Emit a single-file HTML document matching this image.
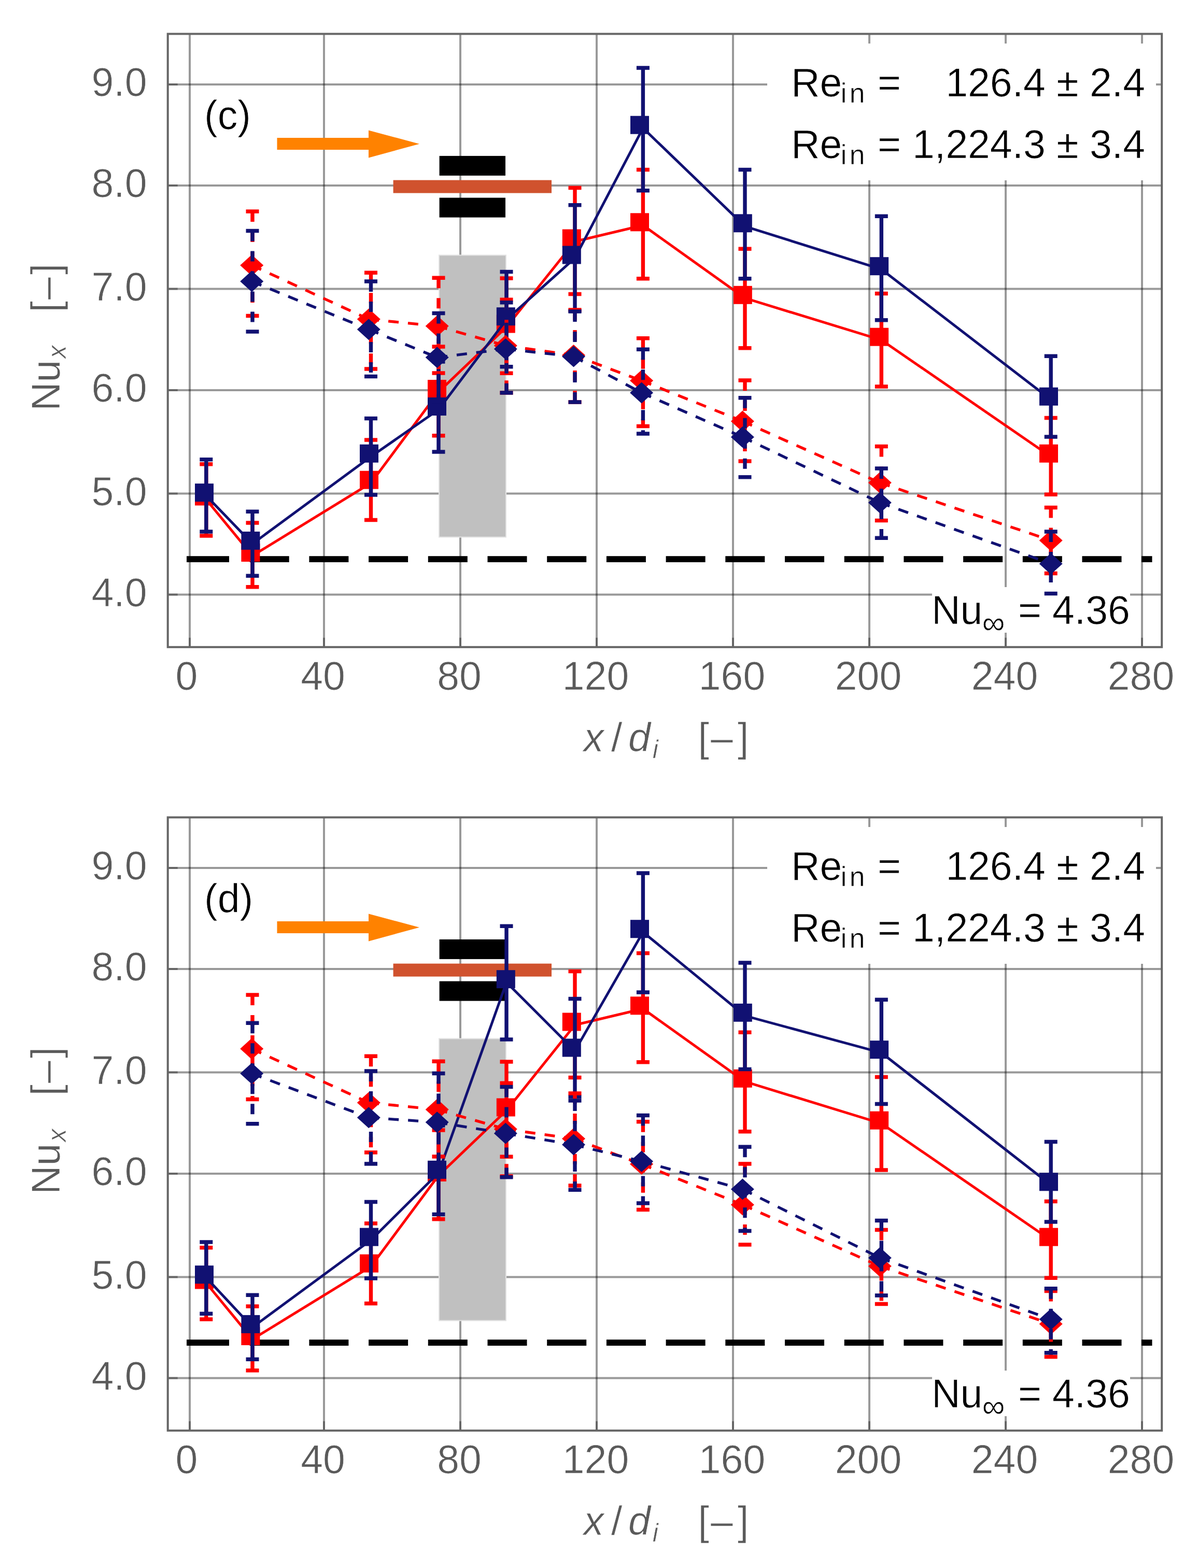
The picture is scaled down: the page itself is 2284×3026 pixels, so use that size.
<!DOCTYPE html>
<html lang="en">
<head>
<meta charset="utf-8">
<title>Local Nusselt number along the tube</title>
<style>
html,body{margin:0;padding:0;background:#fff}
body{width:2284px;height:3026px;overflow:hidden}
svg{display:block;font-family:'Liberation Sans', sans-serif;filter:blur(0.55px)}
text{stroke:#fff;stroke-width:0.7px;stroke-linejoin:round}
</style>
</head>
<body>
<svg width="2284" height="3026" viewBox="0 0 2284 3026">
<rect width="2284" height="3026" fill="#fff"/>
<g id="chart-c">
<path d="M323.7 163H2241.2M323.7 358H2241.2M323.7 557.5H2241.2M323.7 753H2241.2M323.7 952.5H2241.2M323.7 1147.5H2241.2" stroke="#000" stroke-opacity="0.4" stroke-width="4" fill="none"/>
<path d="M366 65.4V1248.8M625 65.4V1248.8M888 65.4V1248.8M1151 65.4V1248.8M1414 65.4V1248.8M1677 65.4V1248.8M1940 65.4V1248.8M2203 65.4V1248.8" stroke="#000" stroke-opacity="0.4" stroke-width="4" fill="none"/>
<path d="M323.7 163h19M323.7 358h19M323.7 557.5h19M323.7 753h19M323.7 952.5h19M323.7 1147.5h19M366 1248.8v-18M625 1248.8v-18M888 1248.8v-18M1151 1248.8v-18M1414 1248.8v-18M1677 1248.8v-18M1940 1248.8v-18M2203 1248.8v-18" stroke="#000" stroke-opacity="0.33" stroke-width="4" fill="none"/>
<rect x="1480" y="84" width="750" height="264" fill="#fff"/>
<rect x="1798" y="1133" width="382" height="88" fill="#fff"/>
<rect x="323.7" y="65.4" width="1917.5" height="1183.4" fill="none" stroke="#666666" stroke-width="4"/>
<rect x="846" y="491.5" width="131" height="546" fill="#e2e2e2"/>
<rect x="848" y="493.5" width="127" height="542" fill="#c0c0c0"/>
<text x="1797" y="1203.5" font-size="77" fill="#000">Nu<tspan font-size="62" dy="19" dx="-1">∞</tspan><tspan dy="-19" x="1964">=</tspan><tspan x="2030">4.36</tspan></text>
<path d="M534.5 266H711V251.5L809 277.7L711 304.5V289H534.5z" fill="#ff8200"/>
<rect x="847.6" y="300.9" width="127.4" height="38" fill="#000"/>
<rect x="847.6" y="381.6" width="127.4" height="38" fill="#000"/>
<rect x="758.6" y="347.6" width="305.4" height="25" fill="#d0522e"/>
<g fill="#000"><rect x="360" y="1073.2" width="82" height="11.8"/><rect x="481.7" y="1073.2" width="76" height="11.8"/><rect x="596.4" y="1073.2" width="76" height="11.8"/><rect x="711.1" y="1073.2" width="76" height="11.8"/><rect x="825.8" y="1073.2" width="76" height="11.8"/><rect x="940.5" y="1073.2" width="76" height="11.8"/><rect x="1055.2" y="1073.2" width="76" height="11.8"/><rect x="1169.9" y="1073.2" width="76" height="11.8"/><rect x="1284.6" y="1073.2" width="76" height="11.8"/><rect x="1399.3" y="1073.2" width="76" height="11.8"/><rect x="1514" y="1073.2" width="76" height="11.8"/><rect x="1628.7" y="1073.2" width="76" height="11.8"/><rect x="1743.4" y="1073.2" width="76" height="11.8"/><rect x="1858.1" y="1073.2" width="76" height="11.8"/><rect x="1972.8" y="1073.2" width="76" height="11.8"/><rect x="2087.5" y="1073.2" width="76" height="11.8"/><rect x="2202.2" y="1073.2" width="20.3" height="11.8"/></g>
<polyline points="397.8,964 487,1072.5 715.5,932.2 846,756.5 977,631 1109,466 1240.4,434.8 1437,575.3 1700.3,656.2 2027.2,881.2" fill="none" stroke="#ff0000" stroke-width="5"/>
<path d="M397.8 895.7V1034" stroke="#ff0000" stroke-width="7.4" fill="none"/>
<path d="M385.3 895.7h25M385.3 1034h25" stroke="#ff0000" stroke-width="7.5" fill="none"/>
<path d="M487 1008.9V1132.8" stroke="#ff0000" stroke-width="7.4" fill="none"/>
<path d="M474.5 1008.9h25M474.5 1132.8h25" stroke="#ff0000" stroke-width="7.5" fill="none"/>
<path d="M715.5 849V1003.5" stroke="#ff0000" stroke-width="7.4" fill="none"/>
<path d="M703 849h25M703 1003.5h25" stroke="#ff0000" stroke-width="7.5" fill="none"/>
<path d="M846 669V840.7" stroke="#ff0000" stroke-width="7.4" fill="none"/>
<path d="M833.5 669h25M833.5 840.7h25" stroke="#ff0000" stroke-width="7.5" fill="none"/>
<path d="M977 537V720.2" stroke="#ff0000" stroke-width="7.4" fill="none"/>
<path d="M964.5 537h25M964.5 720.2h25" stroke="#ff0000" stroke-width="7.5" fill="none"/>
<path d="M1109 362.6V567.5" stroke="#ff0000" stroke-width="7.4" fill="none"/>
<path d="M1096.5 362.6h25M1096.5 567.5h25" stroke="#ff0000" stroke-width="7.5" fill="none"/>
<path d="M1240.4 327.4V537.7" stroke="#ff0000" stroke-width="7.4" fill="none"/>
<path d="M1227.9 327.4h25M1227.9 537.7h25" stroke="#ff0000" stroke-width="7.5" fill="none"/>
<path d="M1437 480.2V671.7" stroke="#ff0000" stroke-width="7.4" fill="none"/>
<path d="M1424.5 480.2h25M1424.5 671.7h25" stroke="#ff0000" stroke-width="7.5" fill="none"/>
<path d="M1700.3 566.5V746.1" stroke="#ff0000" stroke-width="7.4" fill="none"/>
<path d="M1687.8 566.5h25M1687.8 746.1h25" stroke="#ff0000" stroke-width="7.5" fill="none"/>
<path d="M2027.2 806.5V954.3" stroke="#ff0000" stroke-width="7.4" fill="none"/>
<path d="M2014.7 806.5h25M2014.7 954.3h25" stroke="#ff0000" stroke-width="7.5" fill="none"/>
<rect x="376" y="940.5" width="36" height="35" fill="#ff0000"/>
<rect x="465.4" y="1049" width="36" height="35" fill="#ff0000"/>
<rect x="694" y="908.7" width="36" height="35" fill="#ff0000"/>
<rect x="825" y="733" width="36" height="35" fill="#ff0000"/>
<rect x="957.8" y="607.5" width="36" height="35" fill="#ff0000"/>
<rect x="1084.8" y="442.5" width="36" height="35" fill="#ff0000"/>
<rect x="1216" y="411.3" width="36" height="35" fill="#ff0000"/>
<rect x="1414.8" y="551.8" width="36" height="35" fill="#ff0000"/>
<rect x="1678.1" y="632.7" width="36" height="35" fill="#ff0000"/>
<rect x="2005" y="857.7" width="36" height="35" fill="#ff0000"/>
<polyline points="397.8,956.7 487,1049.4 715.5,881.2 846,790.5 977,616.7 1109,498 1240.4,247.2 1437,436.8 1700.3,519.7 2027.2,771.2" fill="none" stroke="#111172" stroke-width="5"/>
<path d="M397.8 886.7V1026" stroke="#111172" stroke-width="7.4" fill="none"/>
<path d="M385.3 886.7h25M385.3 1026h25" stroke="#111172" stroke-width="7.5" fill="none"/>
<path d="M487 987.3V1111.3" stroke="#111172" stroke-width="7.4" fill="none"/>
<path d="M474.5 987.3h25M474.5 1111.3h25" stroke="#111172" stroke-width="7.5" fill="none"/>
<path d="M715.5 807.5V955" stroke="#111172" stroke-width="7.4" fill="none"/>
<path d="M703 807.5h25M703 955h25" stroke="#111172" stroke-width="7.5" fill="none"/>
<path d="M846 698V872" stroke="#111172" stroke-width="7.4" fill="none"/>
<path d="M833.5 698h25M833.5 872h25" stroke="#111172" stroke-width="7.5" fill="none"/>
<path d="M977 524.4V707.7" stroke="#111172" stroke-width="7.4" fill="none"/>
<path d="M964.5 524.4h25M964.5 707.7h25" stroke="#111172" stroke-width="7.5" fill="none"/>
<path d="M1109 395.7V600" stroke="#111172" stroke-width="7.4" fill="none"/>
<path d="M1096.5 395.7h25M1096.5 600h25" stroke="#111172" stroke-width="7.5" fill="none"/>
<path d="M1240.4 130.9V367.7" stroke="#111172" stroke-width="7.4" fill="none"/>
<path d="M1227.9 130.9h25M1227.9 367.7h25" stroke="#111172" stroke-width="7.5" fill="none"/>
<path d="M1437 327.5V537.7" stroke="#111172" stroke-width="7.4" fill="none"/>
<path d="M1424.5 327.5h25M1424.5 537.7h25" stroke="#111172" stroke-width="7.5" fill="none"/>
<path d="M1700.3 417.2V617.8" stroke="#111172" stroke-width="7.4" fill="none"/>
<path d="M1687.8 417.2h25M1687.8 617.8h25" stroke="#111172" stroke-width="7.5" fill="none"/>
<path d="M2027.2 687.2V843" stroke="#111172" stroke-width="7.4" fill="none"/>
<path d="M2014.7 687.2h25M2014.7 843h25" stroke="#111172" stroke-width="7.5" fill="none"/>
<rect x="376" y="933.2" width="36" height="35" fill="#111172"/>
<rect x="465.4" y="1025.9" width="36" height="35" fill="#111172"/>
<rect x="694" y="857.7" width="36" height="35" fill="#111172"/>
<rect x="825" y="767" width="36" height="35" fill="#111172"/>
<rect x="957.8" y="593.2" width="36" height="35" fill="#111172"/>
<rect x="1084.8" y="474.5" width="36" height="35" fill="#111172"/>
<rect x="1216" y="223.7" width="36" height="35" fill="#111172"/>
<rect x="1414.8" y="413.3" width="36" height="35" fill="#111172"/>
<rect x="1678.1" y="496.2" width="36" height="35" fill="#111172"/>
<rect x="2005" y="747.7" width="36" height="35" fill="#111172"/>
<path d="M485.7 511.9L711.3 616M711.3 616L843.2 629.3M843.2 629.3L975.3 667M975.3 667L1106.5 685.5M1106.5 685.5L1237.6 734.6M1237.6 734.6L1432.4 813M1432.4 813L1697.3 931.6M1697.3 931.6L2027.2 1043" fill="none" stroke="#ff0000" stroke-width="5.3" stroke-dasharray="20 18"/>
<path d="M487 408V609.6" stroke="#ff0000" stroke-width="7.4" stroke-dasharray="20 19" fill="none"/>
<path d="M474.5 408h25M474.5 609.6h25" stroke="#ff0000" stroke-width="7.5" fill="none"/>
<path d="M715.5 526.2V712" stroke="#ff0000" stroke-width="7.4" stroke-dasharray="20 19" fill="none"/>
<path d="M703 526.2h25M703 712h25" stroke="#ff0000" stroke-width="7.5" fill="none"/>
<path d="M846 536.3V720" stroke="#ff0000" stroke-width="7.4" stroke-dasharray="20 19" fill="none"/>
<path d="M833.5 536.3h25M833.5 720h25" stroke="#ff0000" stroke-width="7.5" fill="none"/>
<path d="M977 578.3V758" stroke="#ff0000" stroke-width="7.4" stroke-dasharray="20 19" fill="none"/>
<path d="M964.5 578.3h25M964.5 758h25" stroke="#ff0000" stroke-width="7.5" fill="none"/>
<path d="M1109 598V776" stroke="#ff0000" stroke-width="7.4" stroke-dasharray="20 19" fill="none"/>
<path d="M1096.5 598h25M1096.5 776h25" stroke="#ff0000" stroke-width="7.5" fill="none"/>
<path d="M1240.4 652.7V822.6" stroke="#ff0000" stroke-width="7.4" stroke-dasharray="20 19" fill="none"/>
<path d="M1227.9 652.7h25M1227.9 822.6h25" stroke="#ff0000" stroke-width="7.5" fill="none"/>
<path d="M1437 733.9V890" stroke="#ff0000" stroke-width="7.4" stroke-dasharray="20 19" fill="none"/>
<path d="M1424.5 733.9h25M1424.5 890h25" stroke="#ff0000" stroke-width="7.5" fill="none"/>
<path d="M1700.3 861.6V1004.6" stroke="#ff0000" stroke-width="7.4" stroke-dasharray="20 19" fill="none"/>
<path d="M1687.8 861.6h25M1687.8 1004.6h25" stroke="#ff0000" stroke-width="7.5" fill="none"/>
<path d="M2027.2 979.4V1106.6" stroke="#ff0000" stroke-width="7.4" stroke-dasharray="20 19" fill="none"/>
<path d="M2014.7 979.4h25M2014.7 1106.6h25" stroke="#ff0000" stroke-width="7.5" fill="none"/>
<path d="M463.2 511.9l22.5 -20.5 22.5 20.5 -22.5 20.5z" fill="#ff0000"/>
<path d="M688.8 616l22.5 -20.5 22.5 20.5 -22.5 20.5z" fill="#ff0000"/>
<path d="M820.7 629.3l22.5 -20.5 22.5 20.5 -22.5 20.5z" fill="#ff0000"/>
<path d="M952.8 667l22.5 -20.5 22.5 20.5 -22.5 20.5z" fill="#ff0000"/>
<path d="M1084 685.5l22.5 -20.5 22.5 20.5 -22.5 20.5z" fill="#ff0000"/>
<path d="M1215.1 734.6l22.5 -20.5 22.5 20.5 -22.5 20.5z" fill="#ff0000"/>
<path d="M1409.9 813l22.5 -20.5 22.5 20.5 -22.5 20.5z" fill="#ff0000"/>
<path d="M1674.8 931.6l22.5 -20.5 22.5 20.5 -22.5 20.5z" fill="#ff0000"/>
<path d="M2004.7 1043l22.5 -20.5 22.5 20.5 -22.5 20.5z" fill="#ff0000"/>
<path d="M485.7 543.1L711.3 635.8M711.3 635.8L843.2 689.7M843.2 689.7L975.3 673.5M975.3 673.5L1106.5 687.9M1106.5 687.9L1237.6 758M1237.6 758L1432.4 843.4M1432.4 843.4L1697.3 970M1697.3 970L2027.2 1087.9" fill="none" stroke="#111172" stroke-width="5.3" stroke-dasharray="20 18"/>
<path d="M487 445.4V640.1" stroke="#111172" stroke-width="7.4" stroke-dasharray="20 19" fill="none"/>
<path d="M474.5 445.4h25M474.5 640.1h25" stroke="#111172" stroke-width="7.5" fill="none"/>
<path d="M715.5 543.1V726.4" stroke="#111172" stroke-width="7.4" stroke-dasharray="20 19" fill="none"/>
<path d="M703 543.1h25M703 726.4h25" stroke="#111172" stroke-width="7.5" fill="none"/>
<path d="M846 604.6V775" stroke="#111172" stroke-width="7.4" stroke-dasharray="20 19" fill="none"/>
<path d="M833.5 604.6h25M833.5 775h25" stroke="#111172" stroke-width="7.5" fill="none"/>
<path d="M977 583.7V758" stroke="#111172" stroke-width="7.4" stroke-dasharray="20 19" fill="none"/>
<path d="M964.5 583.7h25M964.5 758h25" stroke="#111172" stroke-width="7.5" fill="none"/>
<path d="M1109 601V776" stroke="#111172" stroke-width="7.4" stroke-dasharray="20 19" fill="none"/>
<path d="M1096.5 601h25M1096.5 776h25" stroke="#111172" stroke-width="7.5" fill="none"/>
<path d="M1240.4 674.3V837" stroke="#111172" stroke-width="7.4" stroke-dasharray="20 19" fill="none"/>
<path d="M1227.9 674.3h25M1227.9 837h25" stroke="#111172" stroke-width="7.5" fill="none"/>
<path d="M1437 767.7V920.7" stroke="#111172" stroke-width="7.4" stroke-dasharray="20 19" fill="none"/>
<path d="M1424.5 767.7h25M1424.5 920.7h25" stroke="#111172" stroke-width="7.5" fill="none"/>
<path d="M1700.3 904V1038.3" stroke="#111172" stroke-width="7.4" stroke-dasharray="20 19" fill="none"/>
<path d="M1687.8 904h25M1687.8 1038.3h25" stroke="#111172" stroke-width="7.5" fill="none"/>
<path d="M2027.2 1026V1145.4" stroke="#111172" stroke-width="7.4" stroke-dasharray="20 19" fill="none"/>
<path d="M2014.7 1026h25M2014.7 1145.4h25" stroke="#111172" stroke-width="7.5" fill="none"/>
<path d="M463.2 543.1l22.5 -20.5 22.5 20.5 -22.5 20.5z" fill="#111172"/>
<path d="M688.8 635.8l22.5 -20.5 22.5 20.5 -22.5 20.5z" fill="#111172"/>
<path d="M820.7 689.7l22.5 -20.5 22.5 20.5 -22.5 20.5z" fill="#111172"/>
<path d="M952.8 673.5l22.5 -20.5 22.5 20.5 -22.5 20.5z" fill="#111172"/>
<path d="M1084 687.9l22.5 -20.5 22.5 20.5 -22.5 20.5z" fill="#111172"/>
<path d="M1215.1 758l22.5 -20.5 22.5 20.5 -22.5 20.5z" fill="#111172"/>
<path d="M1409.9 843.4l22.5 -20.5 22.5 20.5 -22.5 20.5z" fill="#111172"/>
<path d="M1674.8 970l22.5 -20.5 22.5 20.5 -22.5 20.5z" fill="#111172"/>
<path d="M2004.7 1087.9l22.5 -20.5 22.5 20.5 -22.5 20.5z" fill="#111172"/>
<text font-size="77" fill="#000" y="185.5"><tspan x="1526">Re</tspan><tspan font-size="54" dy="12" dx="-3" letter-spacing="5">in</tspan><tspan dy="-12" x="1693">=</tspan><tspan x="2209" text-anchor="end">126.4 ± 2.4</tspan></text>
<text font-size="77" fill="#000" y="304.5"><tspan x="1526">Re</tspan><tspan font-size="54" dy="12" dx="-3" letter-spacing="5">in</tspan><tspan dy="-12" x="1693">=</tspan><tspan x="2209" text-anchor="end">1,224.3 ± 3.4</tspan></text>
<text font-size="77" fill="#000" x="394" y="248.5">(c)</text>
<text font-size="77" fill="#5a5a5a" x="283.5" y="185" text-anchor="end">9.0</text>
<text font-size="77" fill="#5a5a5a" x="283.5" y="380" text-anchor="end">8.0</text>
<text font-size="77" fill="#5a5a5a" x="283.5" y="579.5" text-anchor="end">7.0</text>
<text font-size="77" fill="#5a5a5a" x="283.5" y="775" text-anchor="end">6.0</text>
<text font-size="77" fill="#5a5a5a" x="283.5" y="974.5" text-anchor="end">5.0</text>
<text font-size="77" fill="#5a5a5a" x="283.5" y="1169.5" text-anchor="end">4.0</text>
<text font-size="77" fill="#5a5a5a" x="360" y="1331" text-anchor="middle">0</text>
<text font-size="77" fill="#5a5a5a" x="623" y="1331" text-anchor="middle">40</text>
<text font-size="77" fill="#5a5a5a" x="886" y="1331" text-anchor="middle">80</text>
<text font-size="77" fill="#5a5a5a" x="1149" y="1331" text-anchor="middle">120</text>
<text font-size="77" fill="#5a5a5a" x="1412" y="1331" text-anchor="middle">160</text>
<text font-size="77" fill="#5a5a5a" x="1675" y="1331" text-anchor="middle">200</text>
<text font-size="77" fill="#5a5a5a" x="1938" y="1331" text-anchor="middle">240</text>
<text font-size="77" fill="#5a5a5a" x="2201" y="1331" text-anchor="middle">280</text>
<text font-size="77" fill="#5a5a5a" y="1450"><tspan x="1126" font-style="italic">x</tspan><tspan x="1179">/</tspan><tspan x="1212" font-style="italic">d</tspan><tspan font-style="italic" font-size="50" dy="13" dx="4">i</tspan><tspan dy="-13" x="1346.5">[</tspan><tspan x="1371">–</tspan><tspan x="1423">]</tspan></text>
<text font-size="77" fill="#5a5a5a" transform="translate(114.5 793) rotate(-90)"><tspan x="0" y="0">Nu</tspan><tspan font-style="italic" font-size="50" dy="12" dx="3">x</tspan><tspan dy="-12" x="190.5">[</tspan><tspan x="215">–</tspan><tspan x="263">]</tspan></text>
</g>
<g id="chart-d" transform="translate(0 1512)">
<path d="M323.7 163H2241.2M323.7 358H2241.2M323.7 557.5H2241.2M323.7 753H2241.2M323.7 952.5H2241.2M323.7 1147.5H2241.2" stroke="#000" stroke-opacity="0.4" stroke-width="4" fill="none"/>
<path d="M366 65.4V1248.8M625 65.4V1248.8M888 65.4V1248.8M1151 65.4V1248.8M1414 65.4V1248.8M1677 65.4V1248.8M1940 65.4V1248.8M2203 65.4V1248.8" stroke="#000" stroke-opacity="0.4" stroke-width="4" fill="none"/>
<path d="M323.7 163h19M323.7 358h19M323.7 557.5h19M323.7 753h19M323.7 952.5h19M323.7 1147.5h19M366 1248.8v-18M625 1248.8v-18M888 1248.8v-18M1151 1248.8v-18M1414 1248.8v-18M1677 1248.8v-18M1940 1248.8v-18M2203 1248.8v-18" stroke="#000" stroke-opacity="0.33" stroke-width="4" fill="none"/>
<rect x="1480" y="84" width="750" height="264" fill="#fff"/>
<rect x="1798" y="1133" width="382" height="88" fill="#fff"/>
<rect x="323.7" y="65.4" width="1917.5" height="1183.4" fill="none" stroke="#666666" stroke-width="4"/>
<rect x="846" y="491.5" width="131" height="546" fill="#e2e2e2"/>
<rect x="848" y="493.5" width="127" height="542" fill="#c0c0c0"/>
<text x="1797" y="1203.5" font-size="77" fill="#000">Nu<tspan font-size="62" dy="19" dx="-1">∞</tspan><tspan dy="-19" x="1964">=</tspan><tspan x="2030">4.36</tspan></text>
<path d="M534.5 266H711V251.5L809 277.7L711 304.5V289H534.5z" fill="#ff8200"/>
<rect x="847.6" y="300.9" width="127.4" height="38" fill="#000"/>
<rect x="847.6" y="381.6" width="127.4" height="38" fill="#000"/>
<rect x="758.6" y="347.6" width="305.4" height="25" fill="#d0522e"/>
<g fill="#000"><rect x="360" y="1073.2" width="82" height="11.8"/><rect x="481.7" y="1073.2" width="76" height="11.8"/><rect x="596.4" y="1073.2" width="76" height="11.8"/><rect x="711.1" y="1073.2" width="76" height="11.8"/><rect x="825.8" y="1073.2" width="76" height="11.8"/><rect x="940.5" y="1073.2" width="76" height="11.8"/><rect x="1055.2" y="1073.2" width="76" height="11.8"/><rect x="1169.9" y="1073.2" width="76" height="11.8"/><rect x="1284.6" y="1073.2" width="76" height="11.8"/><rect x="1399.3" y="1073.2" width="76" height="11.8"/><rect x="1514" y="1073.2" width="76" height="11.8"/><rect x="1628.7" y="1073.2" width="76" height="11.8"/><rect x="1743.4" y="1073.2" width="76" height="11.8"/><rect x="1858.1" y="1073.2" width="76" height="11.8"/><rect x="1972.8" y="1073.2" width="76" height="11.8"/><rect x="2087.5" y="1073.2" width="76" height="11.8"/><rect x="2202.2" y="1073.2" width="20.3" height="11.8"/></g>
<polyline points="397.8,964 487,1072.5 715.5,932.2 846,756.5 977,631 1109,466 1240.4,434.8 1437,575.3 1700.3,656.2 2027.2,881.2" fill="none" stroke="#ff0000" stroke-width="5"/>
<path d="M397.8 895.7V1034" stroke="#ff0000" stroke-width="7.4" fill="none"/>
<path d="M385.3 895.7h25M385.3 1034h25" stroke="#ff0000" stroke-width="7.5" fill="none"/>
<path d="M487 1008.9V1132.8" stroke="#ff0000" stroke-width="7.4" fill="none"/>
<path d="M474.5 1008.9h25M474.5 1132.8h25" stroke="#ff0000" stroke-width="7.5" fill="none"/>
<path d="M715.5 849V1003.5" stroke="#ff0000" stroke-width="7.4" fill="none"/>
<path d="M703 849h25M703 1003.5h25" stroke="#ff0000" stroke-width="7.5" fill="none"/>
<path d="M846 669V840.7" stroke="#ff0000" stroke-width="7.4" fill="none"/>
<path d="M833.5 669h25M833.5 840.7h25" stroke="#ff0000" stroke-width="7.5" fill="none"/>
<path d="M977 537V720.2" stroke="#ff0000" stroke-width="7.4" fill="none"/>
<path d="M964.5 537h25M964.5 720.2h25" stroke="#ff0000" stroke-width="7.5" fill="none"/>
<path d="M1109 362.6V567.5" stroke="#ff0000" stroke-width="7.4" fill="none"/>
<path d="M1096.5 362.6h25M1096.5 567.5h25" stroke="#ff0000" stroke-width="7.5" fill="none"/>
<path d="M1240.4 327.4V537.7" stroke="#ff0000" stroke-width="7.4" fill="none"/>
<path d="M1227.9 327.4h25M1227.9 537.7h25" stroke="#ff0000" stroke-width="7.5" fill="none"/>
<path d="M1437 480.2V671.7" stroke="#ff0000" stroke-width="7.4" fill="none"/>
<path d="M1424.5 480.2h25M1424.5 671.7h25" stroke="#ff0000" stroke-width="7.5" fill="none"/>
<path d="M1700.3 566.5V746.1" stroke="#ff0000" stroke-width="7.4" fill="none"/>
<path d="M1687.8 566.5h25M1687.8 746.1h25" stroke="#ff0000" stroke-width="7.5" fill="none"/>
<path d="M2027.2 806.5V954.3" stroke="#ff0000" stroke-width="7.4" fill="none"/>
<path d="M2014.7 806.5h25M2014.7 954.3h25" stroke="#ff0000" stroke-width="7.5" fill="none"/>
<rect x="376" y="940.5" width="36" height="35" fill="#ff0000"/>
<rect x="465.4" y="1049" width="36" height="35" fill="#ff0000"/>
<rect x="694" y="908.7" width="36" height="35" fill="#ff0000"/>
<rect x="825" y="733" width="36" height="35" fill="#ff0000"/>
<rect x="957.8" y="607.5" width="36" height="35" fill="#ff0000"/>
<rect x="1084.8" y="442.5" width="36" height="35" fill="#ff0000"/>
<rect x="1216" y="411.3" width="36" height="35" fill="#ff0000"/>
<rect x="1414.8" y="551.8" width="36" height="35" fill="#ff0000"/>
<rect x="1678.1" y="632.7" width="36" height="35" fill="#ff0000"/>
<rect x="2005" y="857.7" width="36" height="35" fill="#ff0000"/>
<polyline points="397.8,953.8 487,1049.4 715.5,881.2 846,751.4 977,383.7 1109,516 1240.4,286.7 1437,448.3 1700.3,519.7 2027.2,774.8" fill="none" stroke="#111172" stroke-width="5"/>
<path d="M397.8 885V1023.2" stroke="#111172" stroke-width="7.4" fill="none"/>
<path d="M385.3 885h25M385.3 1023.2h25" stroke="#111172" stroke-width="7.5" fill="none"/>
<path d="M487 987.3V1111.3" stroke="#111172" stroke-width="7.4" fill="none"/>
<path d="M474.5 987.3h25M474.5 1111.3h25" stroke="#111172" stroke-width="7.5" fill="none"/>
<path d="M715.5 807.5V955" stroke="#111172" stroke-width="7.4" fill="none"/>
<path d="M703 807.5h25M703 955h25" stroke="#111172" stroke-width="7.5" fill="none"/>
<path d="M846 660V831.6" stroke="#111172" stroke-width="7.4" fill="none"/>
<path d="M833.5 660h25M833.5 831.6h25" stroke="#111172" stroke-width="7.5" fill="none"/>
<path d="M977 275.3V493.9" stroke="#111172" stroke-width="7.4" fill="none"/>
<path d="M964.5 275.3h25M964.5 493.9h25" stroke="#111172" stroke-width="7.5" fill="none"/>
<path d="M1109 415.5V604.5" stroke="#111172" stroke-width="7.4" fill="none"/>
<path d="M1096.5 415.5h25M1096.5 604.5h25" stroke="#111172" stroke-width="7.5" fill="none"/>
<path d="M1240.4 172.9V402.9" stroke="#111172" stroke-width="7.4" fill="none"/>
<path d="M1227.9 172.9h25M1227.9 402.9h25" stroke="#111172" stroke-width="7.5" fill="none"/>
<path d="M1437 346V551.4" stroke="#111172" stroke-width="7.4" fill="none"/>
<path d="M1424.5 346h25M1424.5 551.4h25" stroke="#111172" stroke-width="7.5" fill="none"/>
<path d="M1700.3 417.2V618.6" stroke="#111172" stroke-width="7.4" fill="none"/>
<path d="M1687.8 417.2h25M1687.8 618.6h25" stroke="#111172" stroke-width="7.5" fill="none"/>
<path d="M2027.2 691.5V846" stroke="#111172" stroke-width="7.4" fill="none"/>
<path d="M2014.7 691.5h25M2014.7 846h25" stroke="#111172" stroke-width="7.5" fill="none"/>
<rect x="376" y="930.3" width="36" height="35" fill="#111172"/>
<rect x="465.4" y="1025.9" width="36" height="35" fill="#111172"/>
<rect x="694" y="857.7" width="36" height="35" fill="#111172"/>
<rect x="825" y="727.9" width="36" height="35" fill="#111172"/>
<rect x="957.8" y="360.2" width="36" height="35" fill="#111172"/>
<rect x="1084.8" y="492.5" width="36" height="35" fill="#111172"/>
<rect x="1216" y="263.2" width="36" height="35" fill="#111172"/>
<rect x="1414.8" y="424.8" width="36" height="35" fill="#111172"/>
<rect x="1678.1" y="496.2" width="36" height="35" fill="#111172"/>
<rect x="2005" y="751.3" width="36" height="35" fill="#111172"/>
<path d="M485.7 511.9L711.3 616M711.3 616L843.2 629.3M843.2 629.3L975.3 667M975.3 667L1106.5 685.5M1106.5 685.5L1237.6 734.6M1237.6 734.6L1432.4 813M1432.4 813L1697.3 931.6M1697.3 931.6L2027.2 1043" fill="none" stroke="#ff0000" stroke-width="5.3" stroke-dasharray="20 18"/>
<path d="M487 408V609.6" stroke="#ff0000" stroke-width="7.4" stroke-dasharray="20 19" fill="none"/>
<path d="M474.5 408h25M474.5 609.6h25" stroke="#ff0000" stroke-width="7.5" fill="none"/>
<path d="M715.5 526.2V712" stroke="#ff0000" stroke-width="7.4" stroke-dasharray="20 19" fill="none"/>
<path d="M703 526.2h25M703 712h25" stroke="#ff0000" stroke-width="7.5" fill="none"/>
<path d="M846 536.3V720" stroke="#ff0000" stroke-width="7.4" stroke-dasharray="20 19" fill="none"/>
<path d="M833.5 536.3h25M833.5 720h25" stroke="#ff0000" stroke-width="7.5" fill="none"/>
<path d="M977 578.3V758" stroke="#ff0000" stroke-width="7.4" stroke-dasharray="20 19" fill="none"/>
<path d="M964.5 578.3h25M964.5 758h25" stroke="#ff0000" stroke-width="7.5" fill="none"/>
<path d="M1109 598V776" stroke="#ff0000" stroke-width="7.4" stroke-dasharray="20 19" fill="none"/>
<path d="M1096.5 598h25M1096.5 776h25" stroke="#ff0000" stroke-width="7.5" fill="none"/>
<path d="M1240.4 652.7V822.6" stroke="#ff0000" stroke-width="7.4" stroke-dasharray="20 19" fill="none"/>
<path d="M1227.9 652.7h25M1227.9 822.6h25" stroke="#ff0000" stroke-width="7.5" fill="none"/>
<path d="M1437 733.9V890" stroke="#ff0000" stroke-width="7.4" stroke-dasharray="20 19" fill="none"/>
<path d="M1424.5 733.9h25M1424.5 890h25" stroke="#ff0000" stroke-width="7.5" fill="none"/>
<path d="M1700.3 861.6V1004.6" stroke="#ff0000" stroke-width="7.4" stroke-dasharray="20 19" fill="none"/>
<path d="M1687.8 861.6h25M1687.8 1004.6h25" stroke="#ff0000" stroke-width="7.5" fill="none"/>
<path d="M2027.2 979.4V1106.6" stroke="#ff0000" stroke-width="7.4" stroke-dasharray="20 19" fill="none"/>
<path d="M2014.7 979.4h25M2014.7 1106.6h25" stroke="#ff0000" stroke-width="7.5" fill="none"/>
<path d="M463.2 511.9l22.5 -20.5 22.5 20.5 -22.5 20.5z" fill="#ff0000"/>
<path d="M688.8 616l22.5 -20.5 22.5 20.5 -22.5 20.5z" fill="#ff0000"/>
<path d="M820.7 629.3l22.5 -20.5 22.5 20.5 -22.5 20.5z" fill="#ff0000"/>
<path d="M952.8 667l22.5 -20.5 22.5 20.5 -22.5 20.5z" fill="#ff0000"/>
<path d="M1084 685.5l22.5 -20.5 22.5 20.5 -22.5 20.5z" fill="#ff0000"/>
<path d="M1215.1 734.6l22.5 -20.5 22.5 20.5 -22.5 20.5z" fill="#ff0000"/>
<path d="M1409.9 813l22.5 -20.5 22.5 20.5 -22.5 20.5z" fill="#ff0000"/>
<path d="M1674.8 931.6l22.5 -20.5 22.5 20.5 -22.5 20.5z" fill="#ff0000"/>
<path d="M2004.7 1043l22.5 -20.5 22.5 20.5 -22.5 20.5z" fill="#ff0000"/>
<path d="M485.7 559.7L711.3 644.8M711.3 644.8L843.2 653.8M843.2 653.8L975.3 675.3M975.3 675.3L1106.5 696.9M1106.5 696.9L1237.6 729.2M1237.6 729.2L1432.4 783M1432.4 783L1697.3 915.5M1697.3 915.5L2027.2 1034" fill="none" stroke="#111172" stroke-width="5.3" stroke-dasharray="20 18"/>
<path d="M487 462.3V656.7" stroke="#111172" stroke-width="7.4" stroke-dasharray="20 19" fill="none"/>
<path d="M474.5 462.3h25M474.5 656.7h25" stroke="#111172" stroke-width="7.5" fill="none"/>
<path d="M715.5 555V733.9" stroke="#111172" stroke-width="7.4" stroke-dasharray="20 19" fill="none"/>
<path d="M703 555h25M703 733.9h25" stroke="#111172" stroke-width="7.5" fill="none"/>
<path d="M846 559.6V748" stroke="#111172" stroke-width="7.4" stroke-dasharray="20 19" fill="none"/>
<path d="M833.5 559.6h25M833.5 748h25" stroke="#111172" stroke-width="7.5" fill="none"/>
<path d="M977 585.5V759.8" stroke="#111172" stroke-width="7.4" stroke-dasharray="20 19" fill="none"/>
<path d="M964.5 585.5h25M964.5 759.8h25" stroke="#111172" stroke-width="7.5" fill="none"/>
<path d="M1109 612V784.2" stroke="#111172" stroke-width="7.4" stroke-dasharray="20 19" fill="none"/>
<path d="M1096.5 612h25M1096.5 784.2h25" stroke="#111172" stroke-width="7.5" fill="none"/>
<path d="M1240.4 640.5V810" stroke="#111172" stroke-width="7.4" stroke-dasharray="20 19" fill="none"/>
<path d="M1227.9 640.5h25M1227.9 810h25" stroke="#111172" stroke-width="7.5" fill="none"/>
<path d="M1437 701.2V863.4" stroke="#111172" stroke-width="7.4" stroke-dasharray="20 19" fill="none"/>
<path d="M1424.5 701.2h25M1424.5 863.4h25" stroke="#111172" stroke-width="7.5" fill="none"/>
<path d="M1700.3 843.6V988" stroke="#111172" stroke-width="7.4" stroke-dasharray="20 19" fill="none"/>
<path d="M1687.8 843.6h25M1687.8 988h25" stroke="#111172" stroke-width="7.5" fill="none"/>
<path d="M2027.2 974.7V1098.7" stroke="#111172" stroke-width="7.4" stroke-dasharray="20 19" fill="none"/>
<path d="M2014.7 974.7h25M2014.7 1098.7h25" stroke="#111172" stroke-width="7.5" fill="none"/>
<path d="M463.2 559.7l22.5 -20.5 22.5 20.5 -22.5 20.5z" fill="#111172"/>
<path d="M688.8 644.8l22.5 -20.5 22.5 20.5 -22.5 20.5z" fill="#111172"/>
<path d="M820.7 653.8l22.5 -20.5 22.5 20.5 -22.5 20.5z" fill="#111172"/>
<path d="M952.8 675.3l22.5 -20.5 22.5 20.5 -22.5 20.5z" fill="#111172"/>
<path d="M1084 696.9l22.5 -20.5 22.5 20.5 -22.5 20.5z" fill="#111172"/>
<path d="M1215.1 729.2l22.5 -20.5 22.5 20.5 -22.5 20.5z" fill="#111172"/>
<path d="M1409.9 783l22.5 -20.5 22.5 20.5 -22.5 20.5z" fill="#111172"/>
<path d="M1674.8 915.5l22.5 -20.5 22.5 20.5 -22.5 20.5z" fill="#111172"/>
<path d="M2004.7 1034l22.5 -20.5 22.5 20.5 -22.5 20.5z" fill="#111172"/>
<text font-size="77" fill="#000" y="185.5"><tspan x="1526">Re</tspan><tspan font-size="54" dy="12" dx="-3" letter-spacing="5">in</tspan><tspan dy="-12" x="1693">=</tspan><tspan x="2209" text-anchor="end">126.4 ± 2.4</tspan></text>
<text font-size="77" fill="#000" y="304.5"><tspan x="1526">Re</tspan><tspan font-size="54" dy="12" dx="-3" letter-spacing="5">in</tspan><tspan dy="-12" x="1693">=</tspan><tspan x="2209" text-anchor="end">1,224.3 ± 3.4</tspan></text>
<text font-size="77" fill="#000" x="394" y="248.5">(d)</text>
<text font-size="77" fill="#5a5a5a" x="283.5" y="185" text-anchor="end">9.0</text>
<text font-size="77" fill="#5a5a5a" x="283.5" y="380" text-anchor="end">8.0</text>
<text font-size="77" fill="#5a5a5a" x="283.5" y="579.5" text-anchor="end">7.0</text>
<text font-size="77" fill="#5a5a5a" x="283.5" y="775" text-anchor="end">6.0</text>
<text font-size="77" fill="#5a5a5a" x="283.5" y="974.5" text-anchor="end">5.0</text>
<text font-size="77" fill="#5a5a5a" x="283.5" y="1169.5" text-anchor="end">4.0</text>
<text font-size="77" fill="#5a5a5a" x="360" y="1331" text-anchor="middle">0</text>
<text font-size="77" fill="#5a5a5a" x="623" y="1331" text-anchor="middle">40</text>
<text font-size="77" fill="#5a5a5a" x="886" y="1331" text-anchor="middle">80</text>
<text font-size="77" fill="#5a5a5a" x="1149" y="1331" text-anchor="middle">120</text>
<text font-size="77" fill="#5a5a5a" x="1412" y="1331" text-anchor="middle">160</text>
<text font-size="77" fill="#5a5a5a" x="1675" y="1331" text-anchor="middle">200</text>
<text font-size="77" fill="#5a5a5a" x="1938" y="1331" text-anchor="middle">240</text>
<text font-size="77" fill="#5a5a5a" x="2201" y="1331" text-anchor="middle">280</text>
<text font-size="77" fill="#5a5a5a" y="1450"><tspan x="1126" font-style="italic">x</tspan><tspan x="1179">/</tspan><tspan x="1212" font-style="italic">d</tspan><tspan font-style="italic" font-size="50" dy="13" dx="4">i</tspan><tspan dy="-13" x="1346.5">[</tspan><tspan x="1371">–</tspan><tspan x="1423">]</tspan></text>
<text font-size="77" fill="#5a5a5a" transform="translate(114.5 793) rotate(-90)"><tspan x="0" y="0">Nu</tspan><tspan font-style="italic" font-size="50" dy="12" dx="3">x</tspan><tspan dy="-12" x="190.5">[</tspan><tspan x="215">–</tspan><tspan x="263">]</tspan></text>
</g>
</svg>
</body>
</html>
